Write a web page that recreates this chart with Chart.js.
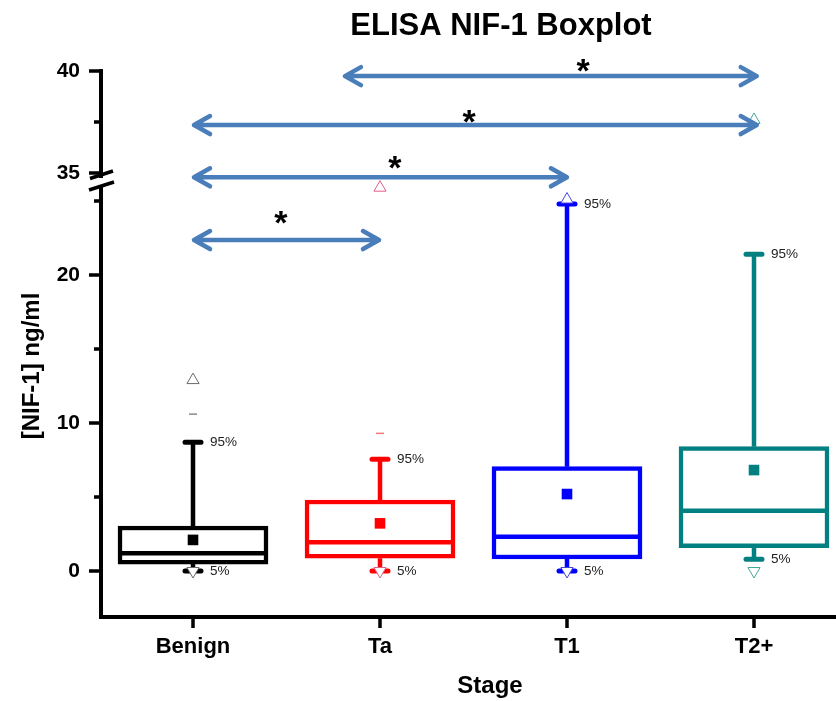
<!DOCTYPE html>
<html><head><meta charset="utf-8">
<script src="https://cdn.jsdelivr.net/npm/chart.js@4.4.0/dist/chart.umd.min.js"></script>
<style>html,body{margin:0;padding:0;background:#fff}#wrap{width:836px;height:701px;position:relative}</style>
</head><body><div id="wrap"><canvas id="c"></canvas></div>
<script>
// ---- data ----
const categories = ['Benign', 'Ta', 'T1', 'T2+'];
const q1 = [0.47, 0.86, 0.81, 1.57];
const q3 = [3.04, 4.8, 7.05, 8.4];
const medians = [1.2, 1.94, 2.32, 4.07];
const means = [2.1, 3.22, 5.2, 6.82];
const p5 = [0, 0, 0, 0.79];
const p95 = [8.7, 7.55, 24.8, 21.4];
const p99 = [10.6, 9.3, null, null];
const minVals = [0, 0, 0, 0];
const maxVals = [12.9, 25.9, 25.1, 37.6];
const lowerTicks = [0, 5, 10, 15, 20, 25];
const lowerLabels = [0, 10, 20];
const upperTicks = [35, 37.5, 40];
const upperLabels = [35, 40];
// significance arrows (x in category units, y in data units)
const sigFrom = [1.807, 1, 1, 1];
const sigTo = [4.02, 4.02, 3.005, 2];
const sigY = [39.75, 37.35, 26.6, 22.36];
const sigAxis = ['y2', 'y2', 'y', 'y'];
const starX = [3.086, 2.476, 2.08, 1.47];
const starY = [40.25, 37.75, 35.5, 23.9];
const starAxis = ['y2', 'y2', 'y2', 'y'];

// ---- styles ----
const FONT = '"Liberation Sans", Arial, sans-serif';
const boxColors = ['#000000', '#ff0000', '#0000ff', '#008080'];
const outlierColors = ['#6a6a6a', '#e0608a', '#4444dd', '#44a898'];
const dashColors = ['#8a8a8a', '#f07a7a', '#6a6aee', '#55aa99'];
const arrowColor = '#4a7ebb';
const BREAK = 30; // values above this belong to the upper axis segment

function pts(vals) {
  return vals.map((v, i) => ({x: i + 1, y: v, c: i})).filter(p => p.y !== null);
}
const lowerOf = arr => pts(arr).filter(p => p.y < BREAK);
const upperOf = arr => pts(arr).filter(p => p.y >= BREAK);

const extras = {
  id: 'extras',
  beforeDatasetsDraw(chart) {
    const ctx = chart.ctx, xs = chart.scales.x, ys = chart.scales.y;
    ctx.save();
    categories.forEach((c, i) => {
      const x = xs.getPixelForValue(i + 1);
      ctx.strokeStyle = boxColors[i];
      ctx.lineWidth = 4.5;
      ctx.lineCap = 'butt';
      ctx.beginPath();
      ctx.moveTo(x, ys.getPixelForValue(q3[i])); ctx.lineTo(x, ys.getPixelForValue(p95[i]));
      ctx.moveTo(x, ys.getPixelForValue(q1[i])); ctx.lineTo(x, ys.getPixelForValue(p5[i]));
      ctx.stroke();
      ctx.lineWidth = 5; ctx.lineCap = 'round';
      ctx.beginPath();
      [p95[i], p5[i]].forEach(v => {
        const y = ys.getPixelForValue(v);
        ctx.moveTo(x - 8, y); ctx.lineTo(x + 8, y);
      });
      ctx.stroke();
    });
    ctx.restore();
  },
  afterDatasetDraw(chart, args) {
    if (args.index !== 0) return;
    const ctx = chart.ctx, xs = chart.scales.x, ys = chart.scales.y;
    ctx.save();
    categories.forEach((c, i) => {
      const x = xs.getPixelForValue(i + 1);
      const y = ys.getPixelForValue(medians[i]);
      ctx.strokeStyle = boxColors[i]; ctx.lineWidth = 4.5;
      ctx.beginPath(); ctx.moveTo(x - 73, y); ctx.lineTo(x + 73, y); ctx.stroke();
    });
    ctx.restore();
  },
  afterDraw(chart) {
    const ctx = chart.ctx, xs = chart.scales.x, ys = chart.scales.y, y2 = chart.scales.y2;
    const ca = chart.chartArea;
    ctx.save();
    // tick marks
    ctx.strokeStyle = '#000'; ctx.lineWidth = 3.5; ctx.lineCap = 'butt';
    ctx.beginPath();
    lowerTicks.forEach(v => {
      const y = ys.getPixelForValue(v), len = lowerLabels.includes(v) ? 12 : 7;
      ctx.moveTo(ca.left - len, y); ctx.lineTo(ca.left, y);
    });
    upperTicks.forEach(v => {
      const y = y2.getPixelForValue(v), len = upperLabels.includes(v) ? 12 : 7;
      ctx.moveTo(ca.left - len, y); ctx.lineTo(ca.left, y);
    });
    categories.forEach((c, i) => {
      const x = xs.getPixelForValue(i + 1);
      ctx.moveTo(x, ca.bottom); ctx.lineTo(x, ca.bottom + 11);
    });
    ctx.stroke();
    // axis break
    const yb = y2.bottom;
    ctx.fillStyle = '#fff';
    ctx.fillRect(ca.left - 4, yb + 3, 8, 8);
    ctx.lineWidth = 3.5;
    ctx.beginPath();
    ctx.moveTo(ca.left - 11, yb + 3.5); ctx.lineTo(ca.left + 12, yb - 4);
    ctx.moveTo(ca.left - 12, yb + 15); ctx.lineTo(ca.left + 13, yb + 7);
    ctx.stroke();
    // percent labels
    ctx.fillStyle = '#222'; ctx.font = '13.5px ' + FONT;
    ctx.textAlign = 'left'; ctx.textBaseline = 'middle';
    categories.forEach((c, i) => {
      const x = xs.getPixelForValue(i + 1);
      ctx.fillText('95%', x + 17, ys.getPixelForValue(p95[i]));
      ctx.fillText('5%', x + 17, ys.getPixelForValue(p5[i]));
    });
    // significance arrows
    ctx.strokeStyle = arrowColor; ctx.lineWidth = 4.5; ctx.lineCap = 'round'; ctx.lineJoin = 'round';
    sigY.forEach((v, k) => {
      const sc = chart.scales[sigAxis[k]];
      const y = sc.getPixelForValue(v);
      const xa = xs.getPixelForValue(sigFrom[k]), xb = xs.getPixelForValue(sigTo[k]);
      ctx.beginPath();
      ctx.moveTo(xa + 2, y); ctx.lineTo(xb - 2, y);
      ctx.moveTo(xa + 17, y - 9); ctx.lineTo(xa + 1, y); ctx.lineTo(xa + 17, y + 9);
      ctx.moveTo(xb - 17, y - 9); ctx.lineTo(xb - 1, y); ctx.lineTo(xb - 17, y + 9);
      ctx.stroke();
    });
    // stars
    ctx.fillStyle = '#000'; ctx.font = 'bold 34px ' + FONT; ctx.textAlign = 'center'; ctx.textBaseline = 'alphabetic';
    const m = ctx.measureText('*');
    const off = (m.actualBoundingBoxAscent - m.actualBoundingBoxDescent) / 2;
    starX.forEach((sx, k) => {
      const sc = chart.scales[starAxis[k]];
      ctx.fillText('*', xs.getPixelForValue(sx), sc.getPixelForValue(starY[k]) + off);
    });
    // titles
    ctx.textBaseline = 'middle';
    ctx.font = 'bold 31px ' + FONT;
    ctx.fillText('ELISA NIF-1 Boxplot', 501, 26);
    ctx.font = 'bold 24px ' + FONT;
    ctx.fillText('Stage', 490, 686);
    ctx.translate(32, 366); ctx.rotate(-Math.PI / 2);
    ctx.fillText('[NIF-1] ng/ml', 0, 0);
    ctx.restore();
  }
};

const tickFont = {family: FONT, size: 21, weight: 'bold'};
const yCommon = {
  type: 'linear', position: 'left', stack: 'v',
  grid: {display: false, drawTicks: false},
  border: {display: true, color: '#000', width: 4},
  ticks: {font: tickFont, color: '#000', padding: 21, autoSkip: false},
  afterFit: s => { s.width = 101; s.paddingTop = 0; s.paddingBottom = 0; }
};

new Chart(document.getElementById('c'), {
  type: 'bar',
  data: {
    datasets: [
      {
        type: 'bar', yAxisID: 'y', order: 10,
        data: categories.map((c, i) => ({x: i + 1, y: [q1[i], q3[i]]})),
        backgroundColor: '#fff', borderColor: boxColors, borderWidth: 4.5,
        borderSkipped: false, barThickness: 150
      },
      {
        type: 'scatter', yAxisID: 'y', order: 1,
        data: pts(means), pointStyle: 'rect', pointRadius: 7.5,
        backgroundColor: boxColors, borderWidth: 0
      },
      {
        type: 'scatter', yAxisID: 'y', order: 1,
        data: lowerOf(p99), pointStyle: 'line', pointRadius: 4,
        borderColor: ctx => dashColors[ctx.raw ? ctx.raw.c : 0], borderWidth: 1.5
      },
      {
        type: 'scatter', yAxisID: 'y', order: 1,
        data: lowerOf(maxVals), pointStyle: 'triangle', pointRadius: 7,
        backgroundColor: '#fff', borderColor: ctx => outlierColors[ctx.raw ? ctx.raw.c : 0], borderWidth: 1
      },
      {
        type: 'scatter', yAxisID: 'y2', order: 1,
        data: upperOf(maxVals), pointStyle: 'triangle', pointRadius: 7,
        backgroundColor: '#fff', borderColor: ctx => outlierColors[ctx.raw ? ctx.raw.c : 0], borderWidth: 1
      },
      {
        type: 'scatter', yAxisID: 'y', order: 1,
        data: lowerOf(minVals), pointStyle: 'triangle', rotation: 180, pointRadius: 7,
        backgroundColor: '#fff', borderColor: ctx => outlierColors[ctx.raw ? ctx.raw.c : 0], borderWidth: 1
      }
    ]
  },
  options: {
    responsive: true, maintainAspectRatio: false, animation: false,
    layout: {autoPadding: false, padding: {top: 71, left: 0, right: 0, bottom: 0}},
    plugins: {legend: {display: false}, tooltip: {enabled: false}, title: {display: false}},
    scales: {
      x: {
        type: 'linear', min: 0.508, max: 4.4385, offset: false,
        afterBuildTicks: s => { s.ticks = categories.map((c, i) => ({value: i + 1})); },
        ticks: {callback: v => categories[v - 1] || '', font: {family: FONT, size: 22, weight: 'bold'},
                color: '#000', padding: 17, autoSkip: false, maxRotation: 0},
        grid: {display: false, drawTicks: false, offset: false},
        border: {display: true, color: '#000', width: 4},
        afterFit: s => { s.height = 84; s.paddingLeft = 0; s.paddingRight = 0; }
      },
      y: Object.assign({}, yCommon, {
        stackWeight: 442, min: -3.108, max: 26.757,
        afterBuildTicks: s => { s.ticks = lowerTicks.map(v => ({value: v})); },
        ticks: Object.assign({}, yCommon.ticks, {callback: v => lowerLabels.includes(v) ? String(v) : ''})
      }),
      y2: Object.assign({}, yCommon, {
        stackWeight: 104, min: 34.902, max: 40,
        afterBuildTicks: s => { s.ticks = upperTicks.map(v => ({value: v})); },
        ticks: Object.assign({}, yCommon.ticks, {callback: v => upperLabels.includes(v) ? String(v) : ''})
      })
    }
  },
  plugins: [extras]
});
</script>
</body></html>
